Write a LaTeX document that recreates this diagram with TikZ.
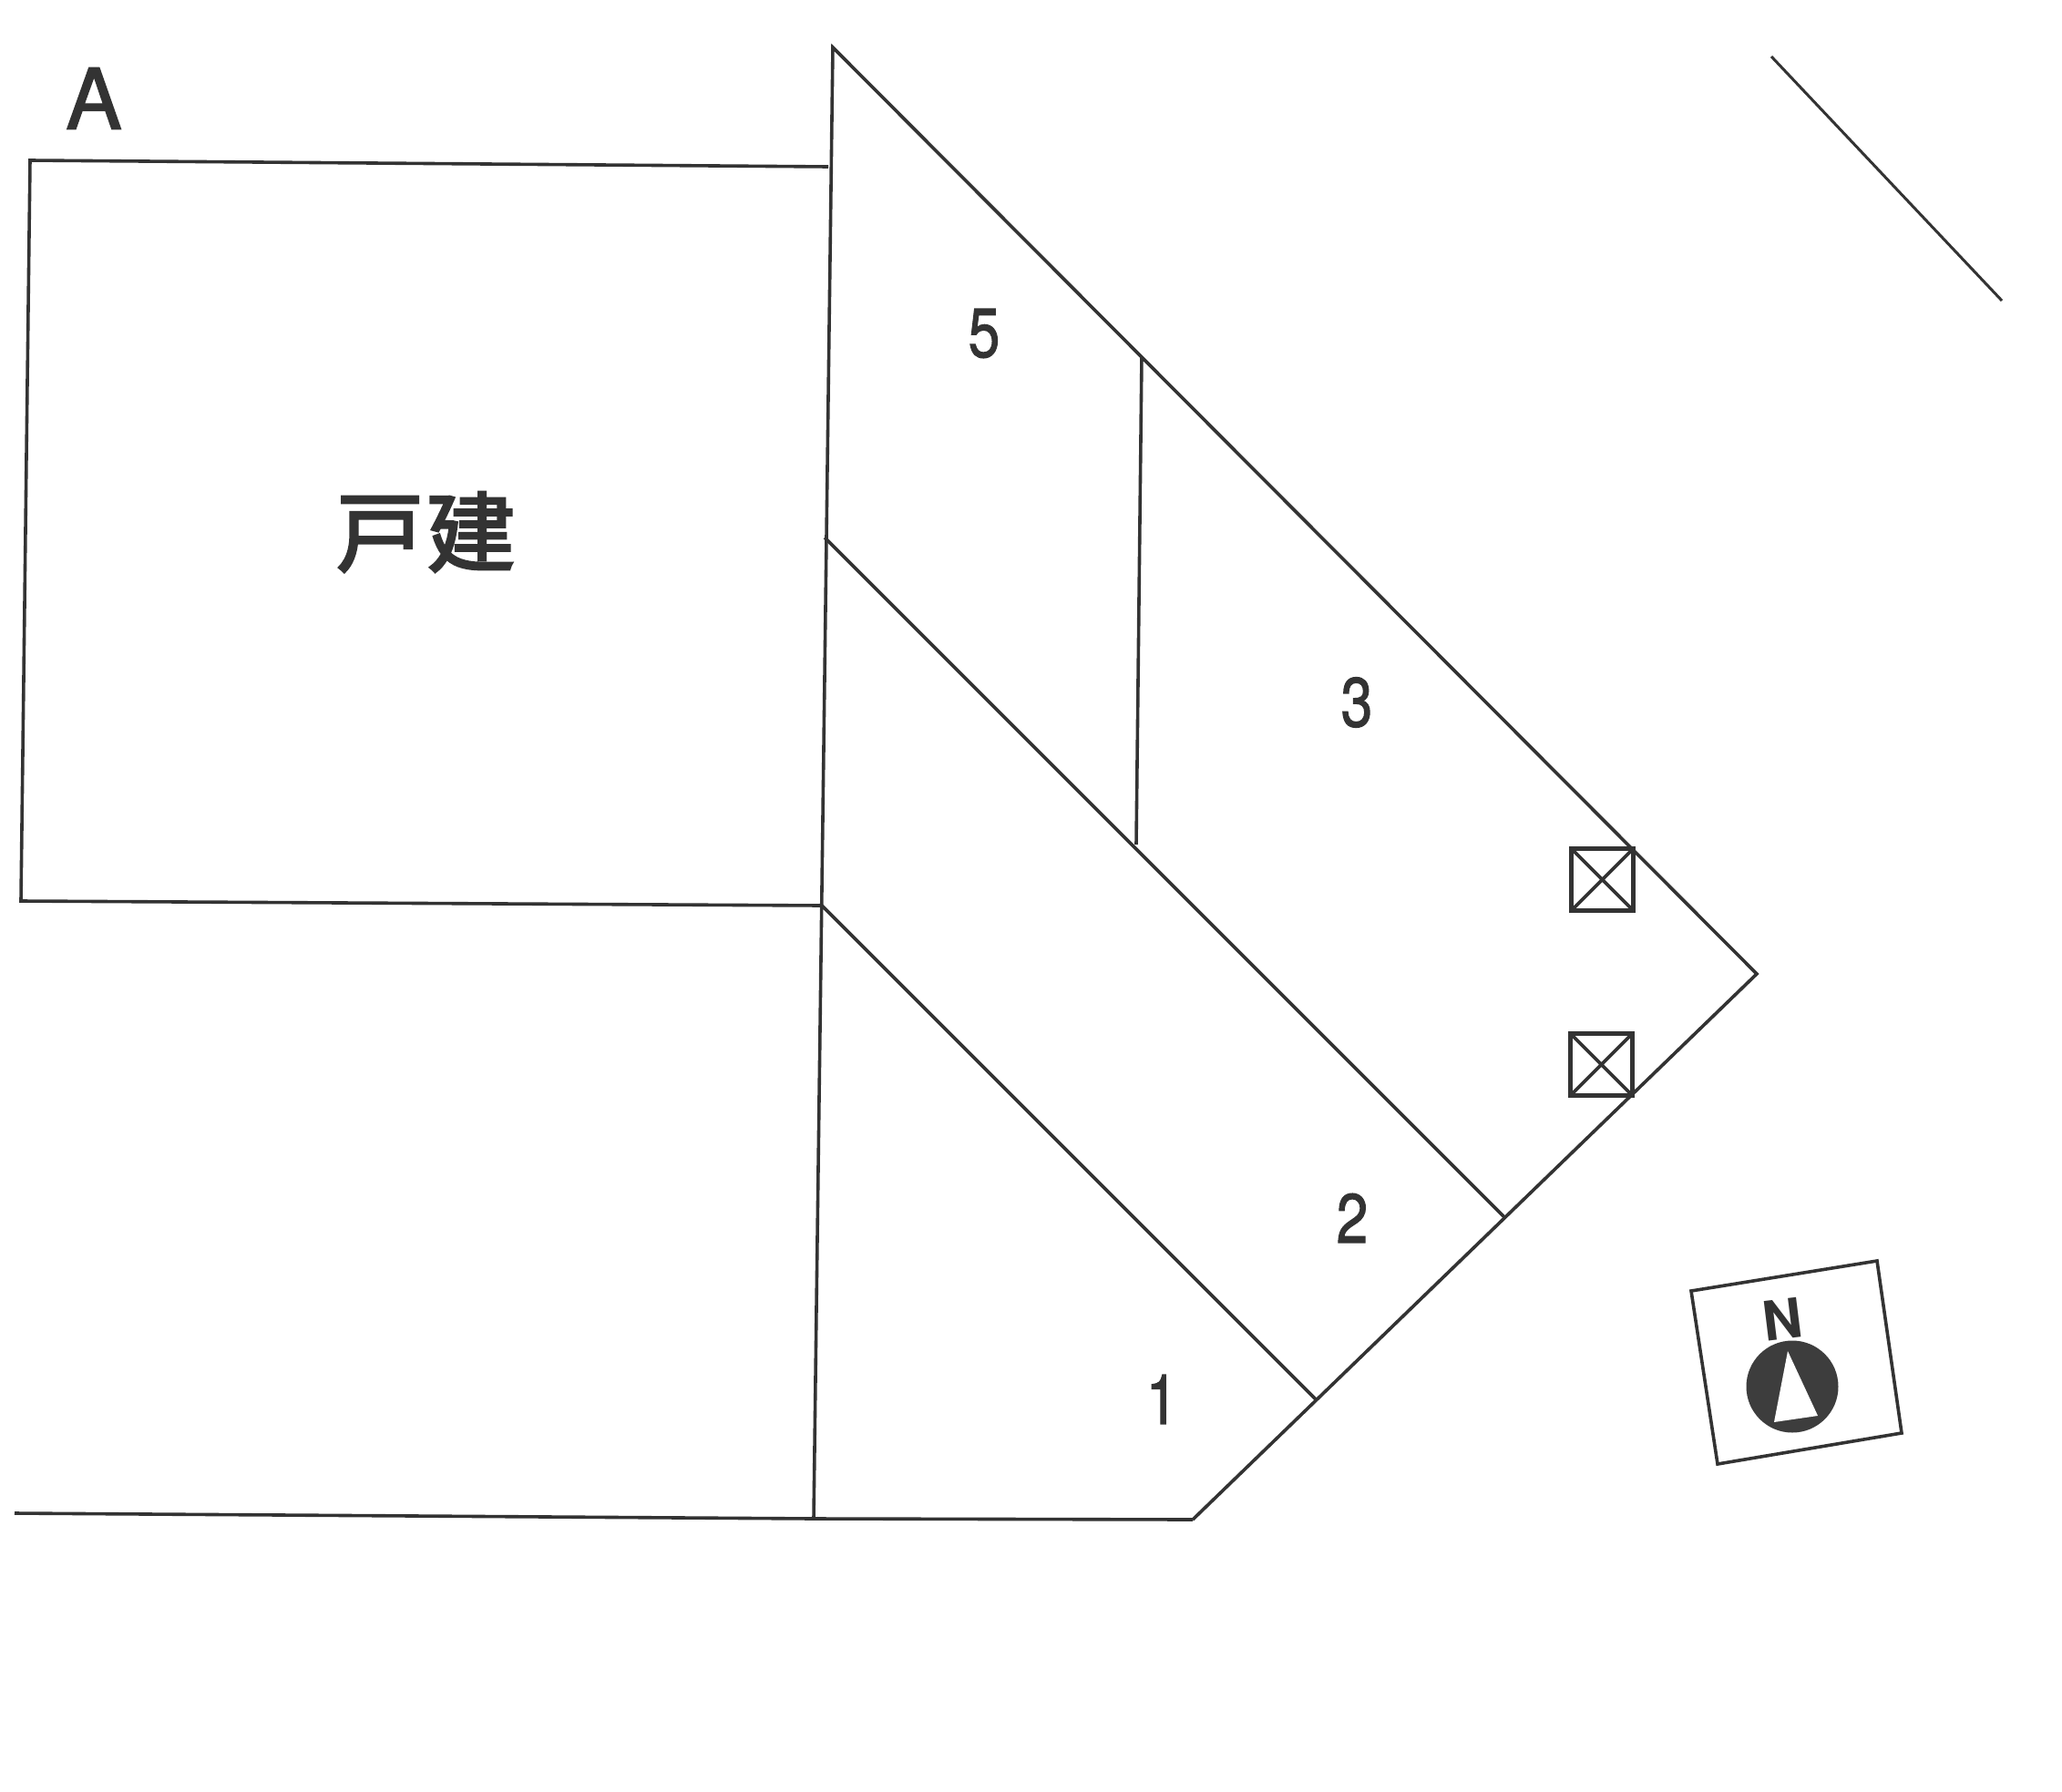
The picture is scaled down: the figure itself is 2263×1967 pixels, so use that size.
\documentclass[tikz,border=0pt]{standalone}
\usepackage{fontspec}
\setmainfont{TeX Gyre Heros}
\newfontfamily\midsans[FakeBold=1.6]{TeX Gyre Heros}
\newfontfamily\cjkjp[FakeBold=3]{Noto Sans CJK JP}
\definecolor{ink}{HTML}{333333}
\tikzset{
  plan/.style={draw=ink,line width=3.6pt,line join=miter},
  thin plan/.style={draw=ink,line width=3pt},
  num/.style={text=ink,inner sep=0pt,font=\midsans\fontsize{76}{76}\selectfont,xscale=.82},
  meter/.style={draw=ink,line width=4.6pt,minimum size=68pt,inner sep=0pt,
    path picture={\draw[ink,line width=3.6pt] (path picture bounding box.north west)--(path picture bounding box.south east)
      (path picture bounding box.north east)--(path picture bounding box.south west);}},
}
\begin{document}
\begin{tikzpicture}[x=1pt,y=-1pt]
\useasboundingbox[fill=white] (0,0) rectangle (2263,1967);
% plan vertices
\coordinate (apex) at (914,52);
\coordinate (rectTL) at (33,176);
\coordinate (rectTR) at (909,183);
\coordinate (rectBL) at (23,989);
\coordinate (rectBR) at (902,994);
\coordinate (baseL) at (16,1661);
\coordinate (baseM) at (893,1667);
\coordinate (baseR) at (1309,1668);
\coordinate (east) at (1928,1069);
\coordinate (d2a) at (905,590);
\coordinate (d2b) at (1651,1336);
\coordinate (d1b) at (1445,1537);
\coordinate (v3a) at (1253,391);
\coordinate (v3b) at (1247,927);
\coordinate (roadA) at (1944,62);
\coordinate (roadB) at (2197,330);
% outlines
\draw[plan] (baseR) -- (east) -- (apex) -- (baseM);
\draw[plan] (baseL) -- (baseM) -- (baseR);
\draw[plan] (rectTR) -- (rectTL) -- (rectBL) -- (rectBR);
\draw[plan] (d2a) -- (d2b);
\draw[plan] (rectBR) -- (d1b);
\draw[plan] (v3a) -- (v3b);
\draw[thin plan] (roadA) -- (roadB);
% meter boxes
\node[meter] (m1) at (1758.5,965.5) {};
\node[meter] (m2) at (1757.5,1168.5) {};
% labels
\node[text=ink,inner sep=0pt,font=\midsans\fontsize{92}{92}\selectfont] (labA) at (103,108) {A};
\node[text=ink,inner sep=0pt,font=\cjkjp\fontsize{96}{96}\selectfont] (labHouse) at (467,584) {戸\hspace{4pt}建};
\node[num] (n5) at (1080,366) {5};
\node[num] (n3) at (1489,771) {3};
\node[num] (n2) at (1484,1337) {2};
\node[num] (n1) at (1275,1536) {1};
% north mark
\coordinate (nA) at (1856,1417);
\coordinate (nB) at (2060,1384);
\coordinate (nC) at (2087,1573);
\coordinate (nD) at (1885,1607);
\draw[draw=ink,line width=3.6pt] (nA) -- (nB) -- (nC) -- (nD) -- cycle;
\node[circle,fill=ink!95,minimum size=101pt,inner sep=0pt] (disc) at (1967,1522) {};
\coordinate (tA) at (1962,1483);
\coordinate (tB) at (1995,1554);
\coordinate (tC) at (1947,1561);
\fill[white] (tA) -- (tB) -- (tC) -- cycle;
\node[text=ink,inner sep=0pt,rotate=7,font=\bfseries\fontsize{60}{60}\selectfont] (labN) at (1956,1448) {N};
\end{tikzpicture}
\end{document}
